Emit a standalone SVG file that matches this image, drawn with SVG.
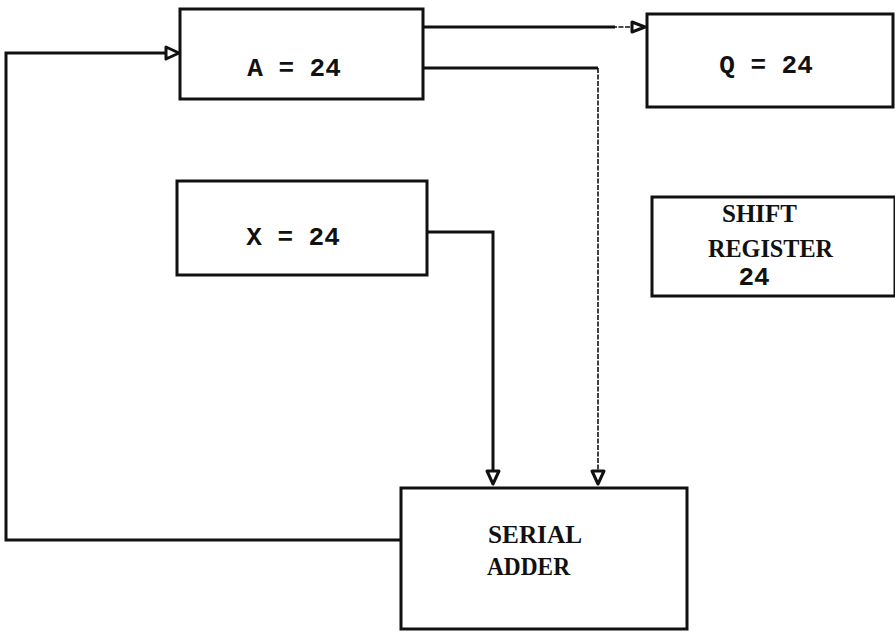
<svg xmlns="http://www.w3.org/2000/svg" width="895" height="633" viewBox="0 0 895 633">
<style>
.box{fill:none;stroke:#111;stroke-width:3}
.ln{fill:none;stroke:#111;stroke-width:3}
.thin{fill:none;stroke:#111;stroke-width:1.6;stroke-dasharray:5 1.5}
.ah{fill:#fff;stroke:#111;stroke-width:3;stroke-linejoin:round}
.lbl{font-family:"Liberation Mono","DejaVu Sans Mono",monospace;font-size:26px;fill:#111;font-weight:bold}
.t{font-family:"Liberation Serif","DejaVu Serif",serif;font-size:25px;fill:#111;font-weight:bold}
</style>
<rect width="895" height="633" fill="#fff"/>
<g id="connectors">
<polyline class="ln" points="400,540 6,540 6,53 166,53"/>
<path class="ah" d="M166,47 L179,53 L166,59 Z"/>
<polyline class="ln" points="423,27 615,27"/>
<polyline class="thin" points="612,27 632,27"/>
<path class="ah" d="M632,22 L645,27 L632,32 Z"/>
<polyline class="ln" points="423,68 598,68"/>
<polyline class="thin" points="598,68 598,471"/>
<path class="ah" d="M592,471 L604,471 L598,484 Z"/>
<polyline class="ln" points="427,232 493,232 493,471"/>
<path class="ah" d="M487,471 L499,471 L493,484 Z"/>
</g>
<g id="nodeA">
<rect class="box" x="180" y="9" width="243" height="90"/>
<text class="lbl" x="294" y="76" text-anchor="middle">A = 24</text>
</g>
<g id="nodeQ">
<rect class="box" x="647" y="14" width="246" height="93"/>
<text class="lbl" x="766" y="73" text-anchor="middle">Q = 24</text>
</g>
<g id="nodeX">
<rect class="box" x="177" y="181" width="250" height="94"/>
<text class="lbl" x="293" y="245" text-anchor="middle">X = 24</text>
</g>
<g id="nodeShift">
<rect class="box" x="652" y="197" width="243" height="99"/>
<text class="t" x="722" y="222" textLength="75" lengthAdjust="spacingAndGlyphs">SHIFT</text>
<text class="t" x="708" y="257" textLength="125" lengthAdjust="spacingAndGlyphs">REGISTER</text>
<text class="lbl" x="754" y="285" text-anchor="middle">24</text>
</g>
<g id="nodeAdder">
<rect class="box" x="401" y="488" width="286" height="141"/>
<text class="t" x="488" y="543" textLength="94" lengthAdjust="spacingAndGlyphs">SERIAL</text>
<text class="t" x="487" y="575" textLength="83" lengthAdjust="spacingAndGlyphs">ADDER</text>
</g>
</svg>
